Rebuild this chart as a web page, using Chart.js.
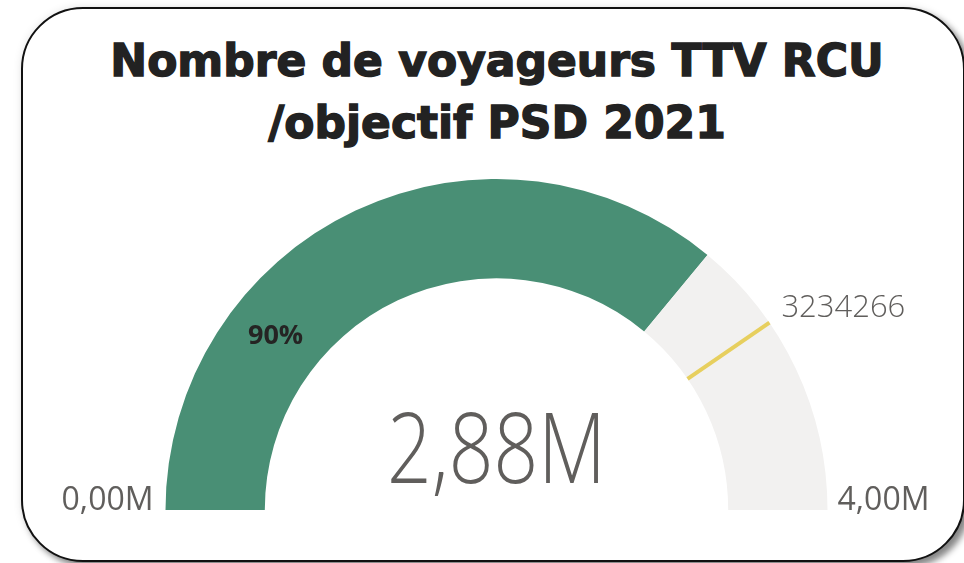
<!DOCTYPE html>
<html>
<head>
<meta charset="utf-8">
<script src="https://cdn.jsdelivr.net/npm/chart.js@4"></script>
<style>
  html, body { margin: 0; padding: 0; background: #fff; }
  body { width: 964px; height: 563px; position: relative; overflow: hidden; }
  #card {
    position: absolute; left: 21px; top: 7px; width: 940px; height: 551px;
    border: 2px solid #111; border-radius: 62px; background: #fff;
    box-shadow: 0 0 8px rgba(0,0,0,0.10), 5px 5px 6px rgba(0,0,0,0.45);
  }
  #title {
    position: absolute; left: 0; top: 30px; width: 994px; text-align: center;
    font-family: "DejaVu Sans", sans-serif; font-weight: bold; font-size: 44px;
    line-height: 62px; color: #222;
    -webkit-text-stroke: 1.4px #222;
  }
  canvas { position: absolute; left: 0; top: 0; }
</style>
</head>
<body>
<div id="card"></div>
<div id="title">Nombre de voyageurs TTV RCU<br>/objectif PSD 2021</div>
<canvas id="gauge" width="964" height="563"></canvas>
<script>
// Gauge values
const minValue = 0;
const maxValue = 4000000;
const actualValue = 2880000;
const targetValue = 3234266;
const labels = ['Valeur', 'Reste'];
const minLabel = '0,00M';
const maxLabel = '4,00M';
const valueLabel = '2,88M';
const targetLabel = '3234266';
const pctLabel = '90%';

const green = '#498F75';
const track = '#F2F1F0';
const gold = '#E7CF5E';
const grey = '#605E5C';

// target line + text labels drawn from the arc geometry
const gaugeText = {
  id: 'gaugeText',
  afterDatasetsDraw(chart) {
    const ctx = chart.ctx;
    const arc = chart.getDatasetMeta(0).data[0];
    const cx = arc.x, cy = arc.y;
    const rIn = arc.innerRadius, rOut = arc.outerRadius;

    // target marker
    const frac = (targetValue - minValue) / (maxValue - minValue);
    const ang = Math.PI + frac * Math.PI;
    ctx.save();
    ctx.strokeStyle = gold;
    ctx.lineWidth = 4;
    ctx.beginPath();
    ctx.moveTo(cx + Math.cos(ang) * rIn, cy + Math.sin(ang) * rIn);
    ctx.lineTo(cx + Math.cos(ang) * rOut, cy + Math.sin(ang) * rOut);
    ctx.stroke();

    ctx.fillStyle = grey;
    ctx.textBaseline = 'alphabetic';
    ctx.font = '32px "Open Sans", sans-serif';
    ctx.textAlign = 'right';
    ctx.fillText(minLabel, cx - rOut - 12, cy);
    ctx.textAlign = 'left';
    ctx.fillText(maxLabel, cx + rOut + 10, cy);
    ctx.font = '300 31px "Open Sans", sans-serif';
    ctx.fillText(targetLabel, cx + Math.cos(ang) * rOut + 12, cy + Math.sin(ang) * rOut - 6);

    // big value, slightly condensed
    ctx.save();
    ctx.translate(cx, cy - 27);
    ctx.scale(0.8, 1);
    ctx.textAlign = 'center';
    ctx.font = '300 98px "Open Sans", sans-serif';
    ctx.fillText(valueLabel, 0, 0);
    ctx.restore();

    // percent label in the filled arc
    const mid = Math.PI + Math.PI * 0.25;
    const rMid = (rIn + rOut) / 2;
    ctx.fillStyle = '#252423';
    ctx.font = 'bold 27px "Open Sans", sans-serif';
    ctx.textAlign = 'center';
    ctx.textBaseline = 'middle';
    ctx.fillText(pctLabel, cx + Math.cos(mid) * rMid - 22, cy + Math.sin(mid) * rMid + 25);
    ctx.restore();
  }
};

new Chart(document.getElementById('gauge'), {
  type: 'doughnut',
  data: {
    labels: labels,
    datasets: [{
      data: [actualValue - minValue, maxValue - actualValue],
      backgroundColor: [green, track],
      borderWidth: 0
    }]
  },
  options: {
    responsive: false,
    animation: false,
    rotation: -90,
    circumference: 180,
    cutout: '70%',
    layout: { padding: { left: 165, right: 136, top: 179, bottom: 53 } },
    plugins: { legend: { display: false }, tooltip: { enabled: false } }
  },
  plugins: [gaugeText]
});
</script>
</body>
</html>
